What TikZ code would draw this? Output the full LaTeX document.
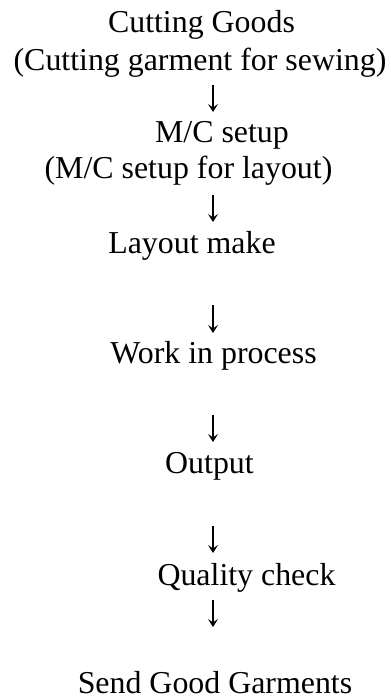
\documentclass[tikz,border=0pt]{standalone}
\usepackage{fontspec}
\setmainfont{Liberation Serif}
\usetikzlibrary{arrows.meta}
\begin{document}
\begin{tikzpicture}[x=1bp,y=-1bp,
  lbl/.style={anchor=base,inner sep=0pt,font=\fontsize{32}{38}\selectfont},
  flow/.style={line width=1.3bp,black,
    -{Stealth[length=8bp,width=10bp,inset=3.5bp]}}]
\useasboundingbox (0,0) rectangle (390,700);
% process steps
\node[lbl] (cut)  at (201.5,33)  {Cutting Goods};
\node[lbl] (cutn) at (200,71)    {(Cutting garment for sewing)};
\node[lbl] (mc)   at (222,142)   {M/C setup};
\node[lbl] (mcn)  at (188.5,178) {(M/C setup for layout)};
\node[lbl] (lay)  at (192,253)   {Layout make};
\node[lbl] (wip)  at (213.5,363) {Work in process};
\node[lbl] (out)  at (209.5,473) {Output};
\node[lbl] (qc)   at (246.5,585) {Quality check};
\node[lbl] (send) at (215,693)   {Send Good Garments};
% ends of the short downward arrows between steps
\coordinate (a1s) at (213,85);  \coordinate (a1e) at (213,112);
\coordinate (a2s) at (213,195); \coordinate (a2e) at (213,222);
\coordinate (a3s) at (213,305); \coordinate (a3e) at (213,333);
\coordinate (a4s) at (213,415); \coordinate (a4e) at (213,442);
\coordinate (a5s) at (213,526); \coordinate (a5e) at (213,553);
\coordinate (a6s) at (213,600); \coordinate (a6e) at (213,627);
\foreach \i in {1,...,6}
  \draw[flow] (a\i s) -- (a\i e);
\end{tikzpicture}
\end{document}
